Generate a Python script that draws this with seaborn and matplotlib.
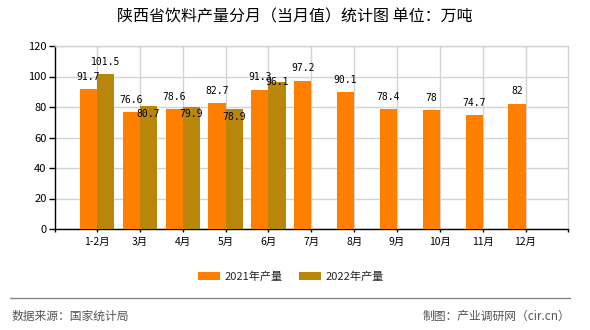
import numpy as np
import pandas as pd
import matplotlib
matplotlib.use("Agg")
import matplotlib.pyplot as plt
import seaborn as sns

# ---- data ----
months = ["1-2月", "3月", "4月", "5月", "6月", "7月", "8月", "9月", "10月", "11月", "12月"]
prod_2021 = [91.7, 76.6, 78.6, 82.7, 91.3, 97.2, 90.1, 78.4, 78, 74.7, 82]
prod_2022 = [101.5, 80.7, 79.9, 78.9, 96.1, np.nan, np.nan, np.nan, np.nan, np.nan, np.nan]
series_names = ["2021年产量", "2022年产量"]
title = "陕西省饮料产量分月（当月值）统计图 单位：万吨"
source_text = "数据来源：国家统计局"
credit_text = "制图：产业调研网（cir.cn）"

# ---- style ----
colors = ["#FF8000", "#B8860B"]
label_offsets = [[12, 12, 12, 12, 13, 13, 12, 12, 12, 12, 13],
                 [12, -8, -7, -8, 0]]

sns.set_theme(style="white")
plt.rcParams["font.family"] = ["Noto Sans CJK SC", "DejaVu Sans"]

df = pd.DataFrame({
    "month": months * 2,
    "value": prod_2021 + prod_2022,
    "series": [series_names[0]] * len(months) + [series_names[1]] * len(months),
})

fig = plt.figure(figsize=(5.9, 3.3), dpi=100)
ax = fig.add_axes([55 / 590, 1 - 229 / 330, (568 - 55) / 590, (229 - 46) / 330])

sns.barplot(data=df, x="month", y="value", hue="series", order=months,
            hue_order=series_names, palette=colors, width=0.8,
            saturation=1, errorbar=None, ax=ax, legend=True, zorder=3,
            linewidth=0, edgecolor="none")

ax.set_xlim(-0.98, 10.99)
ax.set_ylim(0, 120)
ax.set_yticks(np.arange(0, 121, 20))
ax.set_xlabel("")
ax.set_ylabel("")

ax.grid(True, axis="both", color="#D3D3D3", linewidth=1, zorder=0)
ax.set_axisbelow(True)
for s in ["top", "right"]:
    ax.spines[s].set_color("#D3D3D3")
    ax.spines[s].set_linewidth(1)
for s in ["left", "bottom"]:
    ax.spines[s].set_color("black")
    ax.spines[s].set_linewidth(1)

ax.tick_params(axis="y", which="major", direction="out", length=4, width=1,
               color="black", labelsize=8, labelcolor="black", pad=2, left=True)
ax.tick_params(axis="x", which="major", direction="out", length=2.5, width=1,
               color="black", labelsize=7.5, labelcolor="black", pad=3, bottom=True)
ax.set_xticks([-0.98, 10.99], minor=True)
ax.tick_params(axis="x", which="minor", direction="out", length=2.5, width=1,
               color="black", bottom=True)

# value labels
for k, cont in enumerate(ax.containers):
    vals = [v for v in (prod_2021 if k == 0 else prod_2022) if not np.isnan(v)]
    patches = [p for p in cont.patches if not np.isnan(p.get_height())]
    for i, (p, v) in enumerate(zip(patches, vals)):
        ax.annotate(f"{v:g}", (p.get_x() + p.get_width() / 2, p.get_height()),
                    xytext=(0, label_offsets[k][i]), textcoords="offset pixels",
                    ha="center", va="center", fontsize=7,
                    family="DejaVu Sans Mono", color="black", zorder=5)

# legend
handles, labels = ax.get_legend_handles_labels()
ax.get_legend().remove()
fig.legend(handles, labels, loc="center", bbox_to_anchor=(291 / 590, 1 - 277 / 330),
           ncol=2, frameon=False, fontsize=8, handlelength=2.0, handleheight=0.7,
           handletextpad=0.45, columnspacing=1.4, borderaxespad=0)
for h in fig.legends[0].legend_handles:
    h.set_linewidth(0)

fig.text(295 / 590, 1 - 17 / 330, title, ha="center", va="center", fontsize=11.5, color="black")
fig.add_artist(plt.Line2D([10 / 590, 570 / 590], [1 - 298 / 330, 1 - 298 / 330],
                          color="#888888", linewidth=1, transform=fig.transFigure))
fig.text(12 / 590, 1 - 316 / 330, source_text, ha="left", va="center", fontsize=8.5, color="#555555")
fig.text(570 / 590, 1 - 316 / 330, credit_text, ha="right", va="center", fontsize=8.5, color="#555555")

fig.savefig("out.png", dpi=100, facecolor="white")
